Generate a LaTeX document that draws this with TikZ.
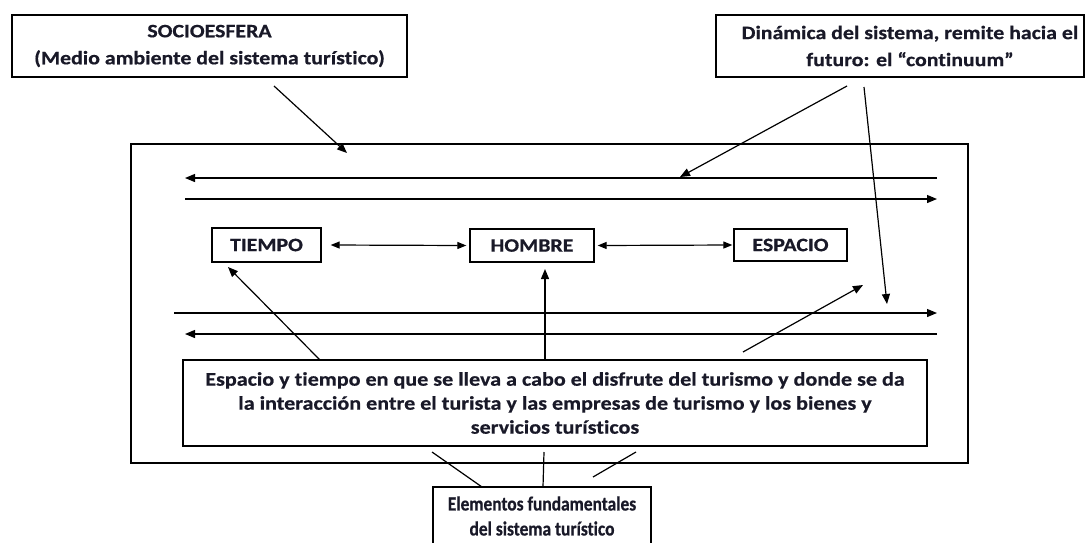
\documentclass[tikz,border=0pt]{standalone}
\usepackage{fontspec}
\setmainfont{Carlito}[FakeStretch=1.15,Ligatures={NoCommon},BoldFeatures={FakeBold=0.6}]
\newfontfamily\condfont{Carlito}[FakeStretch=0.87,Ligatures={NoCommon},BoldFeatures={FakeBold=0.6}]
\usetikzlibrary{arrows.meta}
\definecolor{ink}{RGB}{25,25,40}
\tikzset{
  box/.style={draw=black, line width=1.3pt, inner sep=0pt, align=center,
    font=\bfseries\fontsize{19}{27}\selectfont, text=ink},
  arr/.style={line width=1.2pt, -{Triangle[length=10pt,width=8pt]}},
  dbl/.style={line width=1.2pt, {Triangle[length=9pt,width=7pt]}-{Triangle[length=9pt,width=7pt]}},
  ln/.style={line width=1.2pt},
}
\begin{document}
\begin{tikzpicture}[x=1pt,y=-1pt]
\clip (0,0) rectangle (1085,542);
\fill[white] (0,0) rectangle (1085,542);
% boxes
\node[box, minimum width=395pt, minimum height=62pt] (soc) at (209.5,46)
  {SOCIOESFERA\\(Medio ambiente del sistema turístico)};
\node[box, minimum width=368pt, minimum height=62pt] (din) at (900,46)
  {\hspace*{20pt}Dinámica del sistema, remite hacia el\\\hspace*{20pt}futuro: el “continuum”};
\node[draw=black, line width=1.3pt, minimum width=837pt, minimum height=319pt] (main) at (549.5,303.5) {};
\node[box, minimum width=109pt, minimum height=34pt] (tiempo) at (266.5,245) {TIEMPO};
\node[box, minimum width=124pt, minimum height=33pt] (hombre) at (532,245.5) {HOMBRE};
\node[box, minimum width=113pt, minimum height=32pt] (espacio) at (790.5,245) {ESPACIO};
\node[box, font=\bfseries\fontsize{19.2}{24}\selectfont, minimum width=744pt, minimum height=86pt] (esp) at (555,403)
  {Espacio y tiempo en que se lleva a cabo el disfrute del turismo y donde se da\\
   la interacción entre el turista y las empresas de turismo y los bienes y\\
   servicios turísticos};
\node[box, font=\condfont\bfseries\fontsize{20}{25}\selectfont, minimum width=218pt, minimum height=58pt] (elem) at (542,516)
  {Elementos fundamentales\\del sistema turístico};
% coordinates for free ends
\coordinate (l1a) at (937,178); \coordinate (l1b) at (185,178);
\coordinate (l2a) at (185,199); \coordinate (l2b) at (937,199);
\coordinate (l3a) at (174,313); \coordinate (l3b) at (937,313);
\coordinate (l4a) at (937,334); \coordinate (l4b) at (185,334);
\coordinate (socS) at (274,86); \coordinate (socT) at (347,153);
\coordinate (dinS1) at (847,86); \coordinate (dinT1) at (680,177);
\coordinate (dinS2) at (864,87); \coordinate (dinT2) at (887,304);
\coordinate (tS) at (320,360); \coordinate (tT) at (228,267);
\coordinate (hS) at (545,360); \coordinate (hT) at (545,269);
\coordinate (neS) at (743,352); \coordinate (neT) at (863,285);
\coordinate (e1a) at (432,452); \coordinate (e1b) at (482,487);
\coordinate (e2a) at (544,452); \coordinate (e2b) at (543,487);
\coordinate (e3a) at (636,452); \coordinate (e3b) at (593,477);
% horizontal lines
\draw[arr] (l1a) -- (l1b);
\draw[arr] (l2a) -- (l2b);
\draw[arr] (l3a) -- (l3b);
\draw[arr] (l4a) -- (l4b);
% arrows from top boxes
\draw[arr] (socS) -- (socT);
\draw[arr] (dinS1) -- (dinT1);
\draw[arr] (dinS2) -- (dinT2);
% double arrows
\draw[dbl] ([xshift=9pt]tiempo.east) -- ([xshift=-3pt]hombre.west);
\draw[dbl] ([xshift=3pt]hombre.east) -- ([xshift=-1pt]espacio.west);
% arrows from the Espacio box
\draw[arr] (tS) -- (tT);
\draw[arr] (hS) -- (hT);
\draw[arr] (neS) -- (neT);
% lines to Elementos
\draw[ln] (e1a) -- (e1b);
\draw[ln] (e2a) -- (e2b);
\draw[ln] (e3a) -- (e3b);
\end{tikzpicture}
\end{document}
